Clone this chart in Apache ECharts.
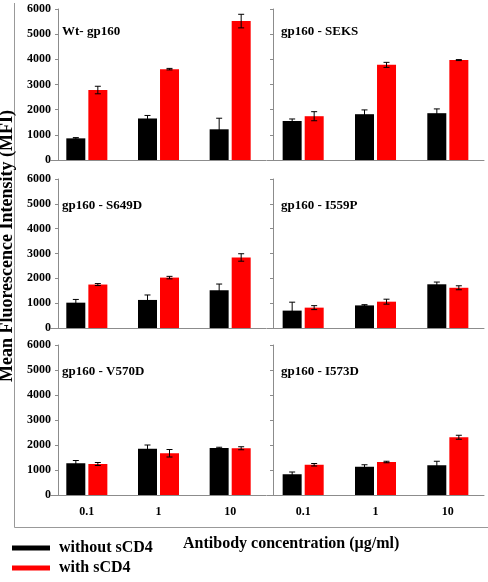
<!DOCTYPE html>
<html>
<head>
<meta charset="utf-8">
<script src="https://cdn.jsdelivr.net/npm/echarts@6/dist/echarts.min.js"></script>
<style>
  html, body { margin: 0; padding: 0; background: #fff; }
  #chart { width: 488px; height: 582px; }
</style>
</head>
<body>
<div id="chart"></div>
<script>
// data
const categories = ['0.1', '1', '10']
const panelTitles = ['Wt- gp160', 'gp160 - SEKS', 'gp160 - S649D', 'gp160 - I559P', 'gp160 - V570D', 'gp160 - I573D']
const withoutMean = [[860, 1650, 1220], [1550, 1820, 1860], [1020, 1130, 1520], [700, 910, 1760], [1270, 1850, 1880], [830, 1130, 1190]]
const withoutErr = [[30, 120, 440], [80, 170, 170], [130, 200, 250], [340, 30, 90], [110, 150, 30], [90, 80, 160]]
const withMean = [[2780, 3610, 5520], [1740, 3780, 3970], [1750, 2030, 2840], [820, 1060, 1620], [1240, 1670, 1870], [1210, 1320, 2310]]
const withErr = [[150, 30, 270], [180, 100, 20], [40, 50, 150], [80, 100, 80], [60, 150, 60], [50, 30, 80]]

const font = '"Liberation Serif", "Times New Roman", serif'
const axisColor = '#8c8c8c'
const barW = 19
const dx = 11

let chart = echarts.init(document.getElementById('chart'))

// panel layout: [left, width, yAxis offset, title x]
const cols = [[51, 215, -7, 62], [267, 217, -6, 281]]
// [top, height, title y]
const rows = [[9, 151, 33], [179, 149, 207], [345, 150, 373]]

const errorBar = (shift) => (params, api) => {
    const x = api.value(0)
    const v = api.value(1)
    const e = api.value(2)
    const top = api.coord([x, v + e])
    const bot = api.coord([x, v - e])
    const cx = top[0] + shift
    const style = { stroke: '#000', lineWidth: 1 }
    return {
        type: 'group',
        children: [
            { type: 'line', shape: { x1: cx, y1: top[1], x2: cx, y2: bot[1] }, style },
            { type: 'line', shape: { x1: cx - 3, y1: top[1], x2: cx + 3, y2: top[1] }, style },
            { type: 'line', shape: { x1: cx - 3, y1: bot[1], x2: cx + 3, y2: bot[1] }, style }
        ]
    }
}

let grid = [], xAxis = [], yAxis = [], series = [], graphic = []
panelTitles.forEach((name, i) => {
    const c = cols[i % 2]
    const r = rows[Math.floor(i / 2)]
    const bottomRow = i >= 4
    grid.push({ left: c[0], top: r[0], width: c[1], height: r[1] })
    xAxis.push({
        type: 'category',
        gridIndex: i,
        data: categories,
        axisLine: { lineStyle: { color: axisColor } },
        axisTick: { alignWithLabel: true, length: 3, lineStyle: { color: axisColor } },
        axisLabel: {
            show: bottomRow, margin: 11, color: '#000',
            fontFamily: font, fontWeight: 'bold', fontSize: 12
        }
    })
    yAxis.push({
        type: 'value',
        gridIndex: i,
        min: 0,
        max: 6000,
        interval: 1000,
        offset: c[2],
        splitLine: { show: false },
        axisLine: { show: true, lineStyle: { color: axisColor } },
        axisTick: { show: true, length: 3, lineStyle: { color: axisColor } },
        axisLabel: {
            show: i % 2 === 0, margin: 7, color: '#000',
            fontFamily: font, fontWeight: 'bold', fontSize: 12,
            formatter: (v) => String(v)
        }
    })
    series.push({
        name: 'without sCD4', type: 'bar', xAxisIndex: i, yAxisIndex: i,
        barWidth: barW, barGap: '16%', itemStyle: { color: '#000' },
        data: withoutMean[i]
    })
    series.push({
        name: 'with sCD4', type: 'bar', xAxisIndex: i, yAxisIndex: i,
        barWidth: barW, barGap: '16%', itemStyle: { color: '#ff0000' },
        data: withMean[i]
    })
    series.push({
        type: 'custom', xAxisIndex: i, yAxisIndex: i, z: 5,
        renderItem: errorBar(-dx),
        data: withoutMean[i].map((v, k) => [k, v, withoutErr[i][k]])
    })
    series.push({
        type: 'custom', xAxisIndex: i, yAxisIndex: i, z: 5,
        renderItem: errorBar(dx),
        data: withMean[i].map((v, k) => [k, v, withErr[i][k]])
    })
    graphic.push({
        type: 'text', left: c[3], top: r[2] - 8,
        style: { text: name, font: 'bold 13px ' + font, fill: '#000' }
    })
})

// outer frame, axis titles
graphic.push(
    { type: 'line', shape: { x1: 14.5, y1: 3, x2: 14.5, y2: 527.5 }, style: { stroke: '#999', lineWidth: 1 } },
    { type: 'line', shape: { x1: 14.5, y1: 527.5, x2: 488, y2: 527.5 }, style: { stroke: '#999', lineWidth: 1 } },
    {
        type: 'text', x: 7, y: 246, rotation: Math.PI / 2,
        style: {
            text: 'Mean Fluorescence Intensity (MFI)', font: 'bold 18px ' + font,
            fill: '#000', align: 'center', verticalAlign: 'middle'
        }
    },
    {
        type: 'text', left: 183, top: 536,
        style: { text: 'Antibody concentration (µg/ml)', font: 'bold 16px ' + font, fill: '#000' }
    }
)

let option = {
    animation: false,
    legend: {
        orient: 'vertical',
        left: 7,
        top: 535,
        itemWidth: 38,
        itemHeight: 5,
        itemGap: 4,
        icon: 'rect',
        data: ['without sCD4', 'with sCD4'],
        textStyle: {
            fontFamily: font, fontWeight: 'bold', fontSize: 16, color: '#000',
            padding: [0, 0, 0, 4]
        }
    },
    grid: grid,
    xAxis: xAxis,
    yAxis: yAxis,
    series: series,
    graphic: graphic
}
chart.setOption(option)
</script>
</body>
</html>
